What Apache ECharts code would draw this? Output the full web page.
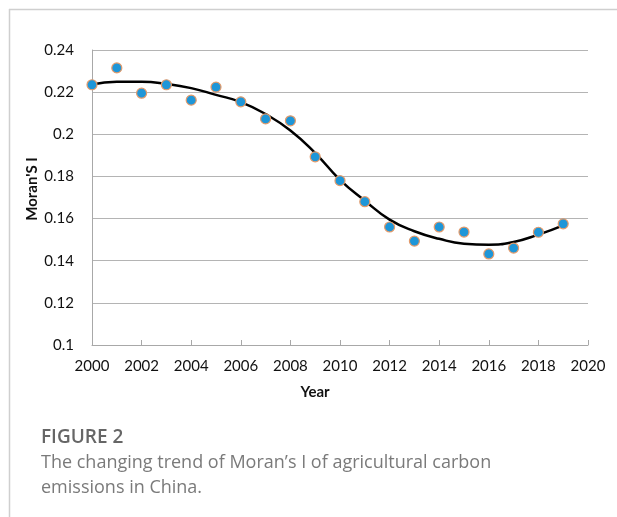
<!DOCTYPE html>
<html>
<head>
<meta charset="utf-8">
<script src="https://cdn.jsdelivr.net/npm/echarts@6/dist/echarts.min.js"></script>
<style>
html,body{margin:0;padding:0;background:#fff;}
#chart{width:617px;height:517px;}
</style>
</head>
<body>
<div id="chart"></div>
<script>
const years = [2000,2001,2002,2003,2004,2005,2006,2007,2008,2009,2010,2011,2012,2013,2014,2015,2016,2017,2018,2019];
const moranI = [0.2235,0.2315,0.2195,0.2235,0.2162,0.2224,0.2154,0.2073,0.2064,0.1893,0.178,0.168,0.156,0.1493,0.156,0.1536,0.1432,0.146,0.1535,0.1575];
const trend = [0.2236,0.2249,0.2249,0.2239,0.2219,0.2187,0.2153,0.2096,0.2018,0.1911,0.1784,0.1685,0.1595,0.154,0.1504,0.1481,0.1476,0.1489,0.1524,0.1568];
const xTitle = 'Year';
const yTitle = "Moran'S I";
const captionTitle = 'FIGURE 2';
const captionLines = ['The changing trend of Moran\u2019s I of agricultural carbon', 'emissions in China.'];

const chart = echarts.init(document.getElementById('chart'), null, {renderer:'canvas'});
const tickFont = 'Lato, "Liberation Sans", sans-serif';
chart.setOption({
  animation:false,
  backgroundColor:'#fff',
  grid:{left:92,right:29,top:50,bottom:172,containLabel:false},
  xAxis:{
    type:'value',min:2000,max:2020,interval:2,
    axisLine:{show:true,lineStyle:{color:'#a8a8a8',width:1}},
    axisTick:{show:true,inside:true,length:5,lineStyle:{color:'#a8a8a8'}},
    axisLabel:{fontFamily:tickFont,fontSize:15,color:'#111',margin:14,formatter:v=>String(v)},
    splitLine:{show:false}
  },
  yAxis:{
    type:'value',min:0.1,max:0.24,interval:0.02,
    axisLine:{show:true,lineStyle:{color:'#a8a8a8',width:1}},
    axisTick:{show:false},
    axisLabel:{fontFamily:tickFont,fontSize:15,color:'#111',margin:18},
    splitLine:{show:true,lineStyle:{color:'#b4b4b4',width:1}}
  },
  series:[
    {type:'line',data:years.map((y,i)=>[y,trend[i]]),smooth:true,showSymbol:false,symbol:'none',
     lineStyle:{color:'#000',width:2.5},z:2},
    {type:'scatter',data:years.map((y,i)=>[y,moranI[i]]),symbolSize:10,
     itemStyle:{color:'#1e96d8',borderColor:'#e39a6a',borderWidth:1.2,opacity:1},z:3}
  ],
  graphic:[
    {type:'line',shape:{x1:9,y1:9.5,x2:617,y2:9.5},style:{stroke:'#cfcfcf',lineWidth:1.5}},
    {type:'line',shape:{x1:9.5,y1:9,x2:9.5,y2:517},style:{stroke:'#cfcfcf',lineWidth:1.5}},
    {type:'text',x:315,y:392,style:{text:xTitle,font:'bold 15px Lato, sans-serif',fill:'#111',textAlign:'center',textVerticalAlign:'middle'}},
    {type:'text',x:32,y:189,rotation:Math.PI/2,style:{text:yTitle,font:'bold 15px Lato, sans-serif',fill:'#111',textAlign:'center',textVerticalAlign:'middle'}},
    {type:'text',left:41,top:428,style:{text:captionTitle,font:'600 19px "Open Sans", sans-serif',fill:'#666'}},
    {type:'text',left:41,top:454,style:{text:captionLines[0],font:'18px "Open Sans", sans-serif',fill:'#7a7a7a'}},
    {type:'text',left:41,top:479,style:{text:captionLines[1],font:'18px "Open Sans", sans-serif',fill:'#7a7a7a'}}
  ]
});
</script>
</body>
</html>
